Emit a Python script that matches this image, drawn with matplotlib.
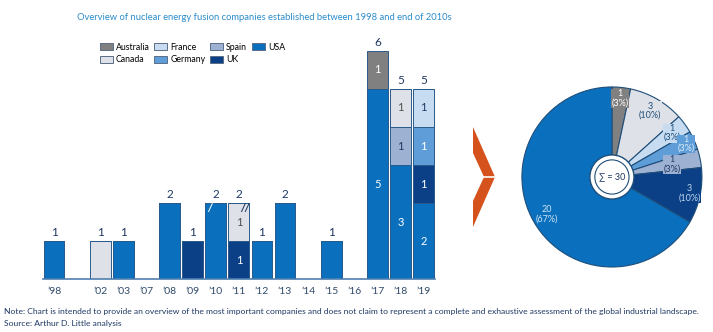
import matplotlib
matplotlib.use("Agg")
import matplotlib.pyplot as plt
import numpy as np
from matplotlib.patches import Patch, Circle, Polygon

plt.rcParams['font.family'] = ['Lato', 'DejaVu Sans']

# data
years = ["’98", "’02", "’03", "’07", "’08", "’09", "’10", "’11", "’12",
         "’13", "’14", "’15", "’16", "’17", "’18", "’19"]
usa = [1, 0, 1, 0, 2, 0, 2, 0, 1, 2, 0, 1, 0, 5, 3, 2]
uk = [0, 0, 0, 0, 0, 1, 0, 1, 0, 0, 0, 0, 0, 0, 0, 1]
spain = [0, 0, 0, 0, 0, 0, 0, 0, 0, 0, 0, 0, 0, 0, 1, 0]
germany = [0, 0, 0, 0, 0, 0, 0, 0, 0, 0, 0, 0, 0, 0, 0, 1]
canada = [0, 1, 0, 0, 0, 0, 0, 1, 0, 0, 0, 0, 0, 0, 1, 0]
france = [0, 0, 0, 0, 0, 0, 0, 0, 0, 0, 0, 0, 0, 0, 0, 1]
australia = [0, 0, 0, 0, 0, 0, 0, 0, 0, 0, 0, 0, 0, 1, 0, 0]

countries = ["Australia", "Canada", "France", "Germany", "Spain", "UK", "USA"]
series = {"Australia": australia, "Canada": canada, "France": france,
          "Germany": germany, "Spain": spain, "UK": uk, "USA": usa}
stack_order = ["USA", "UK", "Spain", "Germany", "Canada", "France", "Australia"]

colors = {"Australia": "#808080", "Canada": "#DEE1E7", "France": "#C7DCF1",
          "Germany": "#5E9DD8", "Spain": "#9DB1D2", "UK": "#0B3F86",
          "USA": "#0A70BE"}
bar_txt = {"Australia": "white", "Canada": "#505050", "France": "#1F3864",
           "Germany": "white", "Spain": "#1F3864", "UK": "white", "USA": "white"}
pie_txt = {"Australia": "white", "Canada": "#1F4E79", "France": "#1F4E79",
           "Germany": "#DDEBF7", "Spain": "#1F3864", "UK": "#BDD7EE",
           "USA": "#CFE2F3"}
pie_lab_r = [0.88, 0.85, 0.83, 0.9, 0.68, 0.88, 0.83]

navy = "#1F3864"
edge = "#2A5A8A"

fig = plt.figure(figsize=(7.13, 3.32), dpi=100)


def fit_width(t, target_px):
    # shrink/grow a text so that it spans the given width in pixels
    fig.canvas.draw()
    w = t.get_window_extent().width
    t.set_fontsize(t.get_fontsize() * target_px / w)


# bar chart
ax = fig.add_axes([0.0603, 0.1596, 0.550, 0.72])
x = np.array([i + (1 if i > 0 else 0) for i in range(len(years))])
nseg = sum((np.array(series[c]) > 0).astype(int) for c in countries)
bottom = np.zeros(len(years))
for c in stack_order:
    vals = np.array(series[c])
    ax.bar(x, vals, bottom=bottom, width=0.9, color=colors[c],
           edgecolor=edge, linewidth=0.7, zorder=2)
    for xi, v, b, n in zip(x, vals, bottom, nseg):
        if v > 0 and n > 1:
            ax.text(xi, b + v / 2, str(v), ha='center', va='center',
                    fontsize=8, color=bar_txt[c], zorder=3)
    bottom += vals
totals = bottom

for xi, t in zip(x, totals):
    if t > 0:
        ax.annotate(str(int(t)), (xi, t), xytext=(0, 2), textcoords='offset points',
                    ha='center', va='bottom', fontsize=8.5, color=navy)

# small break marks on '10 and '11
i10 = years.index("’10")
i11 = years.index("’11")
ax.text(x[i10] - 0.25, totals[i10] - 0.12, "/", ha='center', va='center',
        fontsize=8, color='white', style='italic', fontweight='bold', zorder=4)
ax.text(x[i11] + 0.25, totals[i11] - 0.12, "//", ha='center', va='center',
        fontsize=8, color=navy, style='italic', fontweight='bold', zorder=4)

ax.set_xticks(x)
ax.set_xticklabels(years, fontsize=7.5, color="#2F4A6A")
ax.tick_params(axis='x', length=0, pad=6)
ax.set_yticks([])
ax.set_xlim(-0.48, 16.5)
ax.set_ylim(0, 6.29)
for s in ['top', 'right', 'left']:
    ax.spines[s].set_visible(False)
ax.spines['bottom'].set_color("#4F7FAF")
ax.spines['bottom'].set_linewidth(1.2)

handles = [Patch(facecolor=colors[c], edgecolor="#5A6E86", linewidth=0.7, label=c)
           for c in countries]
fig.legend(handles=handles, ncol=4, loc='upper left',
           bbox_to_anchor=(0.134, 0.885), frameon=False, fontsize=6.3,
           handlelength=1.5, handleheight=0.95, handletextpad=0.35,
           columnspacing=0.5, labelspacing=0.45, borderpad=0)

title = fig.text(77 / 713, 0.947, "Overview of nuclear energy fusion companies "
                 "established between 1998 and end of 2010s", ha='left',
                 va='center', fontsize=9, color="#2B8CCB")
fit_width(title, 378)

# pie chart
pax = fig.add_axes([0.718, 0.1657, 0.2805, 0.6024])
pie_vals = [sum(series[c]) for c in countries]
total = sum(pie_vals)
wedges, _ = pax.pie(pie_vals, colors=[colors[c] for c in countries],
                    startangle=90, counterclock=False,
                    wedgeprops=dict(edgecolor="#1F4E79", linewidth=0.8))
for w, c, v, r in zip(wedges, countries, pie_vals, pie_lab_r):
    ang = np.deg2rad((w.theta1 + w.theta2) / 2)
    pax.text(r * np.cos(ang), r * np.sin(ang),
             f"{v}\n({v / total * 100:.0f}%)", ha='center', va='center',
             fontsize=6.5, color=pie_txt[c], linespacing=1.0,
             bbox=dict(boxstyle='square,pad=0.05', facecolor=colors[c],
                       edgecolor='none'))
pax.add_patch(Circle((0, 0), 0.245, facecolor='white', edgecolor="#1F4E79",
                     linewidth=1.0, zorder=5))
pax.add_patch(Circle((0, 0), 0.19, facecolor='white', edgecolor="#1F4E79",
                     linewidth=0.8, zorder=6))
pax.text(0, 0, f"∑ = {total}", ha='center', va='center', fontsize=6.5,
         color=navy, zorder=7)
pax.set_xlim(-1.111, 1.111)
pax.set_ylim(-1.111, 1.111)
pax.axis('off')


# chevron arrow
def px(xp, yp):
    return (xp / 713, 1 - yp / 332)


chev = Polygon([px(473, 127), px(495, 177), px(473, 227), px(473, 201),
                px(484, 177), px(473, 153)], closed=True,
               transform=fig.transFigure, facecolor="#D5521C", edgecolor='none')
fig.patches.append(chev)
fig.lines.append(plt.Line2D([472 / 713, 496 / 713], [1 - 177 / 332] * 2,
                            transform=fig.transFigure, color='white', linewidth=1.2))

note = fig.text(0.006, 0.063, "Note: Chart is intended to provide an overview of the most "
                "important companies and does not claim to represent a complete and "
                "exhaustive assessment of the global industrial landscape.",
                fontsize=6, color=navy, va='center')
fit_width(note, 696)
fig.text(0.006, 0.027, "Source: Arthur D. Little analysis",
         fontsize=note.get_fontsize(), color=navy, va='center')

fig.savefig("out.png", dpi=100)
